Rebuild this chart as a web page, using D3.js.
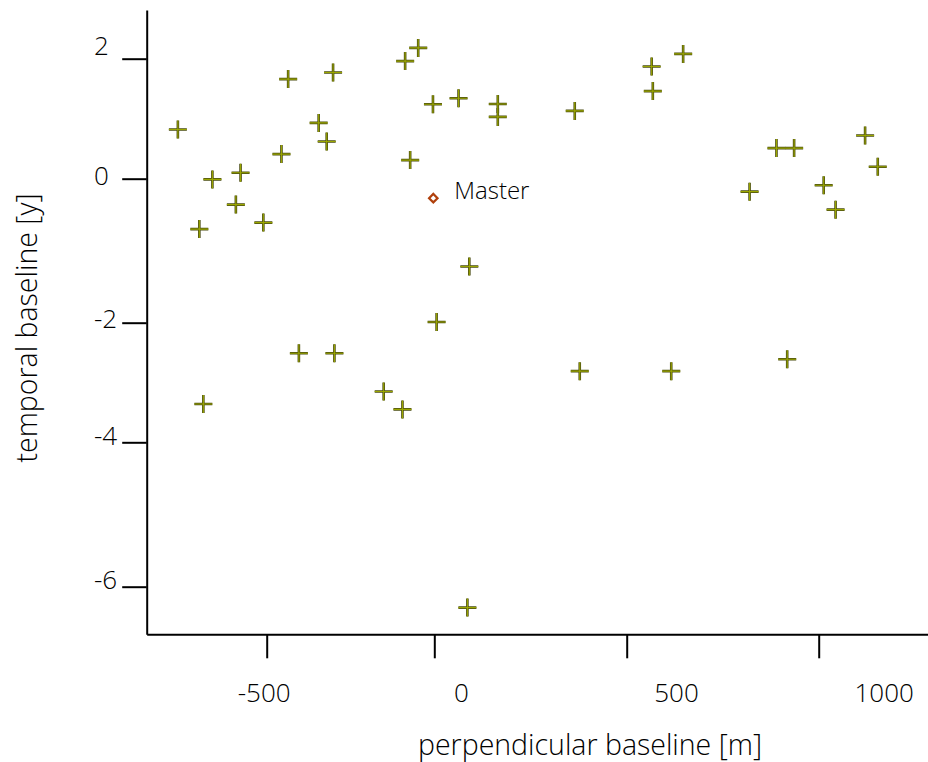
<!DOCTYPE html>
<html>
<head>
<meta charset="utf-8">
<script src="https://cdn.jsdelivr.net/npm/d3@7"></script>
<style>
  body { margin: 0; background: #fff; }
  svg { display: block; font-family: "Open Sans", "Noto Sans", sans-serif; font-weight: 300; }
  .axis path, .axis line { stroke: #000; stroke-width: 2px; }
</style>
</head>
<body>
<svg width="928" height="762"></svg>
<script>
// perpendicular baseline [m] and temporal baseline [y] of each slave acquisition
const perpBaseline = [
  -48, -87, -302, -436, -4, 63, -765, -345, -321, -456,
  -72, -662, -578, -592, -701, -510, 91, 6, -404, -298,
  -689, -151, -95, 86, 647, 565, 568, 165, 165, 365,
  890, 936, 1121, 1154, 1013, 1044, 820, 378, 616, 918
];
const tempBaseline = [
  2.18, 1.96, 1.77, 1.66, 1.24, 1.34, 0.82, 0.93, 0.62, 0.41,
  0.31, -0.01, 0.10, -0.36, -0.70, -0.61, -1.22, -1.99, -2.51, -2.51,
  -3.36, -3.15, -3.45, -6.29, 2.08, 1.87, 1.46, 1.245, 1.03, 1.13,
  0.51, 0.51, 0.72, 0.20, -0.09, -0.43, -0.18, -2.81, -2.81, -2.61
];
const master = { perp: -3, temp: -0.27, label: "Master" };

const xTicks = [-500, 0, 500, 1000];
const yTicks = [-6, -4, -2, 0, 2];

const points = perpBaseline.map((p, i) => ({ perp: p, temp: tempBaseline[i] }));

const svg = d3.select("svg");

// the axes in the source picture are not evenly spaced, so use piecewise scales
const x = d3.scaleLinear()
  .domain([-858, -500, 0, 500, 1000, 1285])
  .range([146.7, 266.7, 434.3, 626.7, 818.7, 928]);

const y = d3.scaleLinear()
  .domain([-6.66, -6, -4, -2, 0, 2, 2.81])
  .range([634.3, 586.7, 442.3, 322.7, 178.7, 58.7, 10]);

// tick labels sit a bit away from their tick marks
const xLabel = d3.scaleLinear().domain(xTicks).range([264.2, 461.5, 676.5, 884.2]);
const yLabel = d3.scaleLinear().domain(yTicks).range([579.2, 435.8, 319, 175.8, 45.3]);

svg.append("g")
  .attr("class", "axis")
  .attr("transform", "translate(0,634.3)")
  .call(d3.axisBottom(x).tickValues(xTicks).tickSize(24).tickSizeOuter(0).tickFormat(""));

svg.append("g")
  .attr("class", "axis")
  .attr("transform", "translate(146.7,0)")
  .call(d3.axisLeft(y).tickValues(yTicks).tickSize(24.5).tickSizeOuter(0).tickFormat(""));

svg.append("g")
  .selectAll("text")
  .data(xTicks)
  .join("text")
  .attr("x", d => xLabel(d))
  .attr("y", 693)
  .attr("dy", "0.36em")
  .attr("text-anchor", "middle")
  .attr("font-size", 26)
  .attr("fill", "#000")
  .text(d => d);

svg.append("g")
  .selectAll("text")
  .data(yTicks)
  .join("text")
  .attr("x", 94)
  .attr("y", d => yLabel(d))
  .attr("dy", "0.36em")
  .attr("font-size", 26)
  .attr("fill", "#000")
  .text(d => d);

// axis titles
svg.append("text")
  .attr("x", 590)
  .attr("y", 755)
  .attr("text-anchor", "middle")
  .attr("font-size", 28.5)
  .attr("fill", "#000")
  .text("perpendicular baseline [m]");

svg.append("text")
  .attr("transform", "translate(37,328) rotate(-90)")
  .attr("text-anchor", "middle")
  .attr("font-size", 28.5)
  .attr("fill", "#000")
  .text("temporal baseline [y]");

// slave acquisitions as plus markers
const cross = "M-9,0H9M0,-9V9";
const marks = svg.append("g")
  .selectAll("g")
  .data(points)
  .join("g")
  .attr("transform", d => `translate(${x(d.perp)},${y(d.temp)})`);

marks.append("path")
  .attr("d", cross)
  .attr("stroke", "#4a4c12")
  .attr("stroke-width", 2.6);

marks.append("path")
  .attr("d", cross)
  .attr("stroke", "#9aa600")
  .attr("stroke-width", 1.1);

// master acquisition
svg.append("path")
  .attr("transform", `translate(${x(master.perp)},${y(master.temp)}) rotate(45)`)
  .attr("d", "M-3,-3H3V3H-3Z")
  .attr("fill", "#fff")
  .attr("stroke", "#b0400c")
  .attr("stroke-width", 2.2);

svg.append("text")
  .attr("x", x(master.perp) + 21)
  .attr("y", y(master.temp) - 8)
  .attr("dy", "0.36em")
  .attr("font-size", 24)
  .attr("fill", "#000")
  .text(master.label);
</script>
</body>
</html>
